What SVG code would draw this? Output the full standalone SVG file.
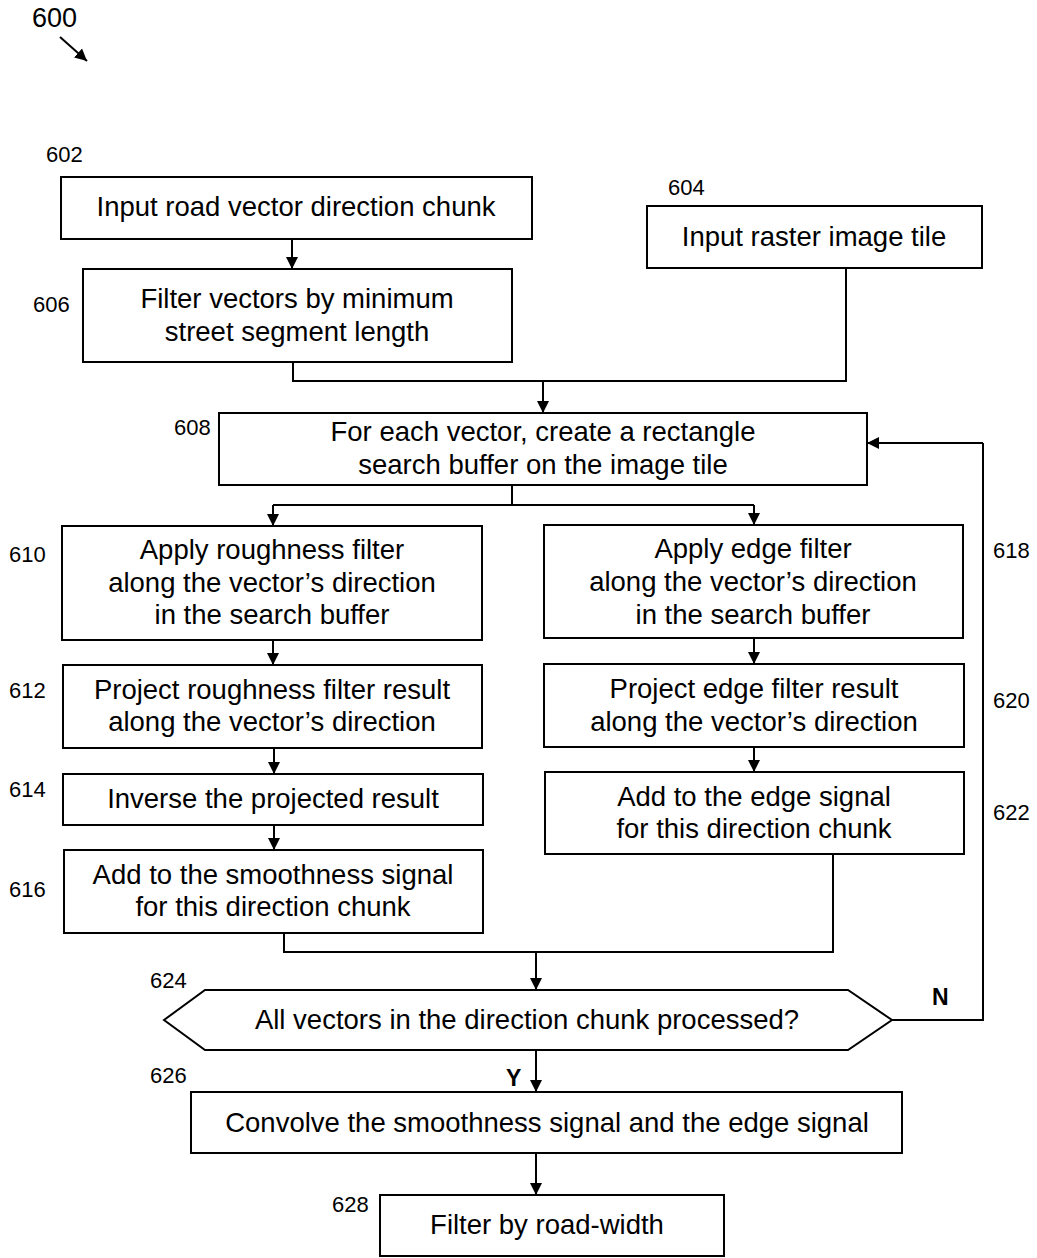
<svg xmlns="http://www.w3.org/2000/svg" width="1037" height="1258" viewBox="0 0 1037 1258">
<defs>
<marker id="ah" markerUnits="userSpaceOnUse" markerWidth="12" markerHeight="14" refX="12" refY="6" orient="auto" viewBox="0 0 12 12">
<path d="M0,0 L12,6 L0,12 Z" fill="#000"/>
</marker>
</defs>
<style>
.box{fill:#fff;stroke:#000;stroke-width:2}
.t{font-family:"Liberation Sans",Arial,sans-serif;font-size:27.5px;fill:#000;text-anchor:middle}
.lbl{font-family:"Liberation Sans",Arial,sans-serif;font-size:22px;fill:#000}
.yn{font-family:"Liberation Sans",Arial,sans-serif;font-size:23px;font-weight:bold;fill:#000}
.c{fill:none;stroke:#000;stroke-width:2}
.ca{fill:none;stroke:#000;stroke-width:2;marker-end:url(#ah)}
</style>
<rect width="1037" height="1258" fill="#fff"/>
<g id="fig-label">
<text x="32" y="27" class="lbl" style="font-size:27px">600</text>
<line x1="60" y1="37" x2="87" y2="61" class="ca"/>
</g>
<g id="connectors">
<line x1="292" y1="239" x2="292" y2="269" class="ca"/>
<polyline points="293,362 293,381 846,381 846,268" class="c"/>
<line x1="543" y1="381" x2="543" y2="413" class="ca"/>
<polyline points="512,485 512,505" class="c"/>
<line x1="273" y1="505" x2="754" y2="505" class="c"/>
<line x1="273" y1="505" x2="273" y2="526" class="ca"/>
<line x1="754" y1="505" x2="754" y2="525" class="ca"/>
<line x1="273" y1="640" x2="273" y2="665" class="ca"/>
<line x1="274" y1="748" x2="274" y2="774" class="ca"/>
<line x1="274" y1="825" x2="274" y2="850" class="ca"/>
<line x1="754" y1="638" x2="754" y2="664" class="ca"/>
<line x1="754" y1="747" x2="754" y2="772" class="ca"/>
<polyline points="284,933 284,952 833,952 833,854" class="c"/>
<line x1="536" y1="952" x2="536" y2="990" class="ca"/>
<polyline points="892,1020 983,1020 983,443" class="c"/>
<line x1="983" y1="443" x2="867" y2="443" class="ca"/>
<line x1="536" y1="1050" x2="536" y2="1092" class="ca"/>
<line x1="536" y1="1153" x2="536" y2="1195" class="ca"/>
<text x="506" y="1086" class="yn">Y</text>
<text x="932" y="1005" class="yn">N</text>
</g>
<g id="n602">
<rect x="61" y="177" width="471" height="62" class="box"/>
<text x="296" y="216" class="t">Input road vector direction chunk</text>
<text x="46" y="162" class="lbl">602</text>
</g>
<g id="n604">
<rect x="647" y="206" width="335" height="62" class="box"/>
<text x="814" y="246" class="t">Input raster image tile</text>
<text x="668" y="195" class="lbl">604</text>
</g>
<g id="n606">
<rect x="83" y="269" width="429" height="93" class="box"/>
<text x="297" y="308" class="t">Filter vectors by minimum</text>
<text x="297" y="341" class="t">street segment length</text>
<text x="33" y="312" class="lbl">606</text>
</g>
<g id="n608">
<rect x="219" y="413" width="648" height="72" class="box"/>
<text x="543" y="441" class="t">For each vector, create a rectangle</text>
<text x="543" y="474" class="t">search buffer on the image tile</text>
<text x="174" y="435" class="lbl">608</text>
</g>
<g id="n610">
<rect x="62" y="526" width="420" height="114" class="box"/>
<text x="272" y="559" class="t">Apply roughness filter</text>
<text x="272" y="592" class="t">along the vector’s direction</text>
<text x="272" y="624" class="t">in the search buffer</text>
<text x="9" y="562" class="lbl">610</text>
</g>
<g id="n612">
<rect x="63" y="665" width="419" height="83" class="box"/>
<text x="272" y="699" class="t">Project roughness filter result</text>
<text x="272" y="731" class="t">along the vector’s direction</text>
<text x="9" y="698" class="lbl">612</text>
</g>
<g id="n614">
<rect x="63" y="774" width="420" height="51" class="box"/>
<text x="273" y="808" class="t">Inverse the projected result</text>
<text x="9" y="797" class="lbl">614</text>
</g>
<g id="n616">
<rect x="64" y="850" width="419" height="83" class="box"/>
<text x="273" y="884" class="t">Add to the smoothness signal</text>
<text x="273" y="916" class="t">for this direction chunk</text>
<text x="9" y="897" class="lbl">616</text>
</g>
<g id="n618">
<rect x="544" y="525" width="419" height="113" class="box"/>
<text x="753" y="558" class="t">Apply edge filter</text>
<text x="753" y="591" class="t">along the vector’s direction</text>
<text x="753" y="624" class="t">in the search buffer</text>
<text x="993" y="558" class="lbl">618</text>
</g>
<g id="n620">
<rect x="544" y="664" width="420" height="83" class="box"/>
<text x="754" y="698" class="t">Project edge filter result</text>
<text x="754" y="731" class="t">along the vector’s direction</text>
<text x="993" y="708" class="lbl">620</text>
</g>
<g id="n622">
<rect x="545" y="772" width="419" height="82" class="box"/>
<text x="754" y="806" class="t">Add to the edge signal</text>
<text x="754" y="838" class="t">for this direction chunk</text>
<text x="993" y="820" class="lbl">622</text>
</g>
<g id="n624">
<polygon points="164,1020 205,990 848,990 892,1020 848,1050 205,1050" class="box"/>
<text x="527" y="1029" class="t">All vectors in the direction chunk processed?</text>
<text x="150" y="988" class="lbl">624</text>
</g>
<g id="n626">
<rect x="191" y="1092" width="711" height="61" class="box"/>
<text x="547" y="1132" class="t">Convolve the smoothness signal and the edge signal</text>
<text x="150" y="1083" class="lbl">626</text>
</g>
<g id="n628">
<rect x="380" y="1195" width="344" height="61" class="box"/>
<text x="547" y="1234" class="t">Filter by road-width</text>
<text x="332" y="1212" class="lbl">628</text>
</g>
</svg>
